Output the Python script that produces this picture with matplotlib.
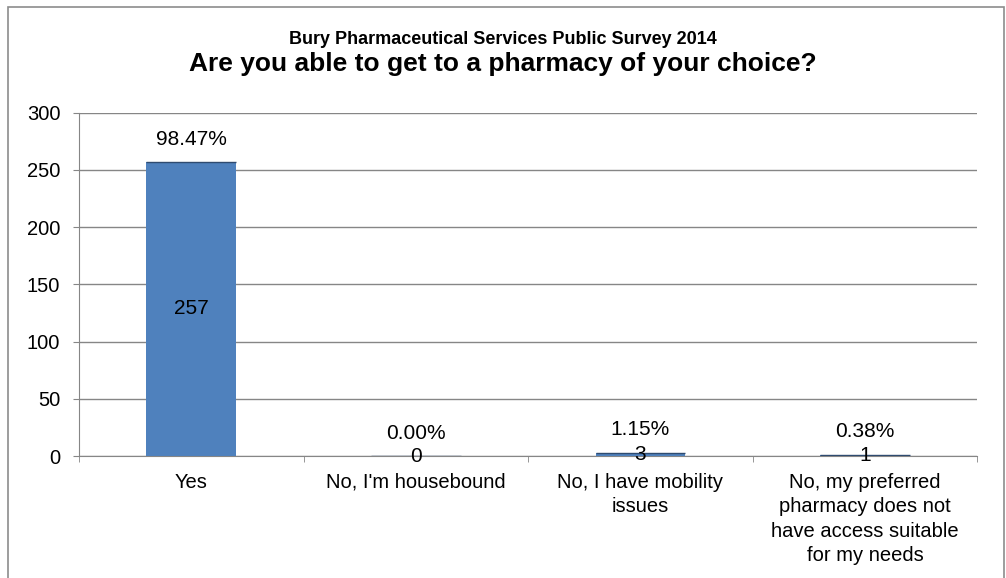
import matplotlib.pyplot as plt
from matplotlib.patches import Rectangle

plt.rcParams['font.family'] = ['Liberation Sans', 'DejaVu Sans']

categories = ["Yes", "No, I'm housebound", "No, I have mobility\nissues",
              "No, my preferred\npharmacy does not\nhave access suitable\nfor my needs"]
counts = [257, 0, 3, 1]
percents = ["98.47%", "0.00%", "1.15%", "0.38%"]
yticks = [0, 50, 100, 150, 200, 250, 300]

bar_color = '#4F81BD'
grid_color = '#868686'
fs = 14.5

fig = plt.figure(figsize=(10.06, 5.78), dpi=100)
ax = fig.add_axes([0.0785, 0.211, 0.893, 0.594])

# outer chart frame
fig.patches.append(Rectangle((0.008, -0.05), 0.99, 1.038, transform=fig.transFigure,
                             fill=False, edgecolor='#8c8c8c', lw=1.2))

x = list(range(len(categories)))
ax.bar(x, counts, width=0.4, color=bar_color, zorder=3)
# darker line on top of each bar
ax.hlines(counts, [i - 0.2 for i in x], [i + 0.2 for i in x], color='#2f4b70',
          lw=1, zorder=4)

for i, (c, p) in enumerate(zip(counts, percents)):
    ax.text(i, c / 2, str(c), ha='center', va='center', fontsize=fs + 0.5, zorder=5)
    ax.annotate(p, (i, c), xytext=(0, 16.5), textcoords='offset points',
                ha='center', va='center', fontsize=fs + 0.5, zorder=5)

ax.set_xlim(-0.5, len(categories) - 0.5)
ax.set_ylim(0, 300)
ax.set_yticks(yticks)
ax.tick_params(axis='y', labelsize=fs, length=4.5, color=grid_color, pad=9)
ax.set_xticks(x)
ax.set_xticklabels(categories, fontsize=fs, linespacing=1.36)
ax.tick_params(axis='x', length=0, pad=12)
ax.set_xticks([-0.5, 0.5, 1.5, 2.5, 3.5], minor=True)
ax.tick_params(axis='x', which='minor', length=4.5, color=grid_color)

ax.yaxis.grid(True, color=grid_color, lw=1)
ax.set_axisbelow(True)
for side in ['top', 'right']:
    ax.spines[side].set_visible(False)
ax.spines['left'].set_color(grid_color)
ax.spines['bottom'].set_color(grid_color)

fig.text(0.5, 0.9239, 'Bury Pharmaceutical Services Public Survey 2014',
         ha='center', va='baseline', fontsize=13, fontweight='bold')
fig.text(0.5, 0.877, 'Are you able to get to a pharmacy of your choice?',
         ha='center', va='baseline', fontsize=19, fontweight='bold')

fig.savefig('out.png', dpi=100)
